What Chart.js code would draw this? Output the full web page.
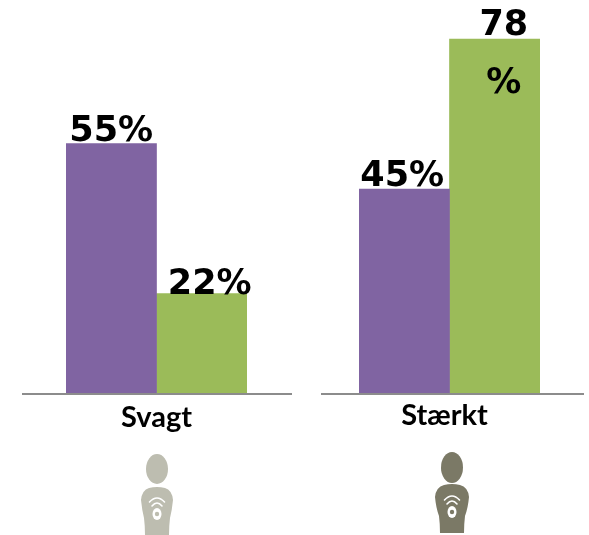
<!DOCTYPE html>
<html>
<head>
<meta charset="utf-8">
<script src="https://cdn.jsdelivr.net/npm/chart.js@4"></script>
<style>
html,body{margin:0;padding:0;background:#fff;}
#wrap{position:relative;width:589px;height:535px;overflow:hidden;}
canvas{position:absolute;top:0;}
#leftChart{left:0;}
#rightChart{left:300px;}
.person{position:absolute;top:450px;width:60px;height:85px;}
</style>
</head>
<body>
<div id="wrap">
<canvas id="leftChart" width="300" height="535"></canvas>
<canvas id="rightChart" width="289" height="535"></canvas>
<svg class="person" style="left:127px" viewBox="0 0 60 85" fill="#bdbdb0">
<ellipse cx="30" cy="19" rx="11" ry="15"/>
<path d="M22 38 Q30 36 38 38 Q45 40 46 50 Q45 60 43 68 Q42 76 42 85 L18 85 Q18 76 17 68 Q15 60 14 50 Q15 40 22 38Z"/>
<g fill="none" stroke="#fff" stroke-width="1.6" stroke-linecap="round">
<path d="M22.5 52 Q30 44 37.5 52"/><path d="M25 56 Q30 50 35 56"/>
</g>
<ellipse cx="30" cy="64" rx="4.5" ry="6" fill="#fff"/>
<circle cx="30" cy="64" r="2.2"/>
</svg>
<svg class="person" style="left:421.5px" viewBox="0 0 60 85" fill="#7b7966">
<ellipse cx="30" cy="17.5" rx="11" ry="15.5"/>
<path d="M22 35 Q30 33 38 35 Q46 37 47 47 Q46 58 43 66 Q42 74 42 83 L18 83 Q18 74 17 66 Q14 58 13 47 Q14 37 22 35Z"/>
<g fill="none" stroke="#fff" stroke-width="1.6" stroke-linecap="round">
<path d="M22.5 50 Q30 42 37.5 50"/><path d="M25 54 Q30 48 35 54"/>
</g>
<ellipse cx="30" cy="62" rx="4.5" ry="6" fill="#fff"/>
<circle cx="30" cy="62" r="2.2"/>
</svg>
</div>
<script>
// values
const leftCategory = ['Svagt'];
const rightCategory = ['Stærkt'];
const purpleLeft = [55];
const greenLeft = [22];
const purpleRight = [45];
const greenRight = [78];
// the 78 label wraps in the original, so % falls inside the bar
const labelsLeft = [['55%'], ['22%']];
const labelsRight = [['45%'], ['78', '%']];

const purple = '#8064a2';
const green = '#9bbb59';
const axisGrey = '#8c8c8c';

// value labels on top of each bar, plus the baseline that runs past the bars
const barLabels = {
    id: 'barLabels',
    afterDatasetsDraw(chart, args, opts) {
        const ctx = chart.ctx;
        const area = chart.chartArea;
        ctx.save();
        ctx.fillStyle = axisGrey;
        ctx.fillRect(opts.lineFrom, Math.round(area.bottom), opts.lineTo - opts.lineFrom, 2);

        ctx.font = 'bold 35px "DejaVu Sans"';
        ctx.fillStyle = '#000';
        ctx.textAlign = 'center';
        ctx.textBaseline = 'alphabetic';
        chart.data.datasets.forEach((ds, i) => {
            const bar = chart.getDatasetMeta(i).data[0];
            opts.labels[i].forEach((line, n) => {
                ctx.fillText(line, bar.x + opts.nudge[i][0], bar.y + opts.nudge[i][1] + n * 58);
            });
        });
        ctx.restore();
    }
};

function makeChart(id, category, purpleData, greenData, cfg) {
    return new Chart(document.getElementById(id), {
        type: 'bar',
        data: {
            labels: category,
            datasets: [
                { data: purpleData, backgroundColor: purple, categoryPercentage: 1, barPercentage: 1 },
                { data: greenData, backgroundColor: green, categoryPercentage: 1, barPercentage: 1 }
            ]
        },
        options: {
            responsive: false,
            animation: false,
            layout: { padding: cfg.pad },
            plugins: {
                legend: { display: false },
                tooltip: { enabled: false },
                barLabels: cfg
            },
            scales: {
                x: {
                    grid: { display: false, drawTicks: false },
                    border: { display: false },
                    ticks: {
                        color: '#000',
                        padding: cfg.tickPad,
                        labelOffset: cfg.tickShift,
                        font: { family: 'Lato', weight: 'bold', size: 29 }
                    }
                },
                y: { display: false, min: 0, max: 86.6 }
            }
        },
        plugins: [barLabels]
    });
}

makeChart('leftChart', leftCategory, purpleLeft, greenLeft, {
    labels: labelsLeft,
    nudge: [[0, -3], [8, 1]],
    lineFrom: 22, lineTo: 292,
    tickPad: 7, tickShift: 0,
    pad: { left: 66, right: 53, top: 0, bottom: 92.8 }
});
makeChart('rightChart', rightCategory, purpleRight, greenRight, {
    labels: labelsRight,
    nudge: [[-2, -3], [9, -4]],
    lineFrom: 21, lineTo: 284,
    tickPad: 5, tickShift: -5,
    pad: { left: 59, right: 49, top: 0, bottom: 96.8 }
});
</script>
</body>
</html>
